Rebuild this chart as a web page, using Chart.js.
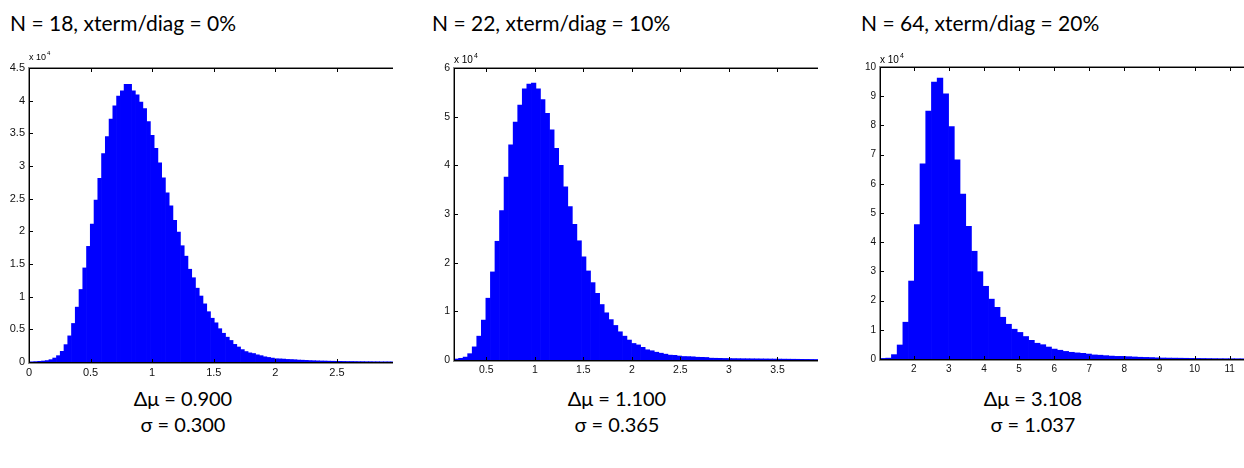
<!DOCTYPE html>
<html>
<head>
<meta charset="utf-8">
<script src="https://cdn.jsdelivr.net/npm/chart.js@4.4.1/dist/chart.umd.min.js"></script>
<style>
  html, body { margin: 0; padding: 0; background: #fff; }
  body { width: 1244px; height: 468px; position: relative; overflow: hidden;
         font-family: Lato, 'Noto Sans', sans-serif; color: #000; }
  canvas { position: absolute; }
  .title { position: absolute; font-size: 21px; line-height: 21px; white-space: nowrap; }
  .stat  { position: absolute; font-size: 20px; line-height: 20px; width: 200px;
           text-align: center; white-space: nowrap; }
</style>
</head>
<body>

<div class="title" id="t1"></div>
<div class="title" id="t2"></div>
<div class="title" id="t3"></div>

<canvas id="h1"></canvas>
<canvas id="h2"></canvas>
<canvas id="h3"></canvas>

<div class="stat" id="m1"></div><div class="stat" id="s1"></div>
<div class="stat" id="m2"></div><div class="stat" id="s2"></div>
<div class="stat" id="m3"></div><div class="stat" id="s3"></div>

<script>
// --- data (counts in units of 1e4) ---------------------------------------

var titles = ['N = 18, xterm/diag = 0%', 'N = 22, xterm/diag = 10%', 'N = 64, xterm/diag = 20%'];
var deltaMu = ['0.900', '1.100', '3.108'];
var sigma   = ['0.300', '0.365', '1.037'];

// N = 18
var binStart1 = 0.0095, binWidth1 = 0.0305;
var counts1 = [
    0.003, 0.006, 0.01, 0.015, 0.022, 0.036, 0.061, 0.097, 0.163, 0.266,
    0.40, 0.59, 0.84, 1.11, 1.44, 1.77, 2.11, 2.48, 2.81, 3.19,
    3.45, 3.72, 3.92, 4.07, 4.15, 4.25, 4.25, 4.15, 4.09, 3.98,
    3.88, 3.68, 3.47, 3.27, 3.05, 2.82, 2.59, 2.39, 2.17, 1.99,
    1.78, 1.62, 1.42, 1.29, 1.13, 1.01, 0.89, 0.77, 0.67, 0.60,
    0.51, 0.44, 0.38, 0.33, 0.27, 0.23, 0.19, 0.16, 0.14, 0.13,
    0.11, 0.097, 0.08, 0.07, 0.06, 0.05, 0.048, 0.045, 0.04, 0.038,
    0.035, 0.03, 0.028, 0.025, 0.022, 0.02, 0.018, 0.016, 0.015, 0.013,
    0.012, 0.011, 0.01, 0.009, 0.008, 0.008, 0.007, 0.006, 0.006, 0.005,
    0.005, 0.004, 0.004, 0.003, 0.003, 0.003, 0.002
];
var xTicks1 = [0, 0.5, 1, 1.5, 2, 2.5];
var yTicks1 = [0, 0.5, 1, 1.5, 2, 2.5, 3, 3.5, 4, 4.5];

// N = 22
var binStart2 = 0.167, binWidth2 = 0.0469;
var counts2 = [
    0.02, 0.035, 0.06, 0.13, 0.27, 0.49, 0.82, 1.27, 1.81, 2.44,
    3.07, 3.76, 4.42, 4.89, 5.24, 5.57, 5.67, 5.69, 5.57, 5.35,
    5.07, 4.73, 4.35, 4.0, 3.56, 3.15, 2.79, 2.45, 2.12, 1.83,
    1.59, 1.37, 1.14, 0.97, 0.83, 0.71, 0.58, 0.49, 0.41, 0.34,
    0.31, 0.26, 0.21, 0.19, 0.16, 0.14, 0.12, 0.10, 0.096, 0.082,
    0.072, 0.07, 0.066, 0.057, 0.055, 0.052, 0.038, 0.036, 0.034, 0.032,
    0.03, 0.029, 0.028, 0.027, 0.026, 0.025, 0.024, 0.023, 0.022, 0.021,
    0.02, 0.019, 0.018, 0.017, 0.016, 0.015, 0.014, 0.013, 0.012, 0.011
];
var xTicks2 = [0.5, 1, 1.5, 2, 2.5, 3, 3.5];
var yTicks2 = [0, 1, 2, 3, 4, 5, 6];

// N = 64
var binStart3 = 1.037, binWidth3 = 0.1629;
var counts3 = [
    0.02, 0.03, 0.15, 0.48, 1.26, 2.67, 4.60, 6.68, 8.49, 9.48,
    9.62, 9.08, 7.96, 6.82, 5.65, 4.54, 3.69, 2.99, 2.49, 2.05,
    1.77, 1.43, 1.19, 1.02, 0.91, 0.77, 0.64, 0.54, 0.49, 0.41,
    0.34, 0.30, 0.26, 0.23, 0.21, 0.195, 0.17, 0.14, 0.13, 0.115,
    0.10, 0.09, 0.09, 0.08, 0.07, 0.06, 0.055, 0.05, 0.04, 0.035,
    0.032, 0.03, 0.028, 0.025, 0.022, 0.02, 0.018, 0.016, 0.014, 0.012,
    0.011, 0.01, 0.009, 0.008
];
var xTicks3 = [2, 3, 4, 5, 6, 7, 8, 9, 10, 11];
var yTicks3 = [0, 1, 2, 3, 4, 5, 6, 7, 8, 9, 10];

// --- axes box with inward ticks and the "x 10^4" multiplier -------------

var matlabAxes = {
    id: 'matlabAxes',
    afterDraw: function (chart, args, opts) {
        var ctx = chart.ctx, a = chart.chartArea;
        var x = chart.scales.x, y = chart.scales.y;
        var L = Math.round(a.left), T = Math.round(a.top), B = Math.round(a.bottom);
        var R = Math.round(a.right);

        ctx.save();
        // soft outer pixel, then the solid edge (left, top, bottom; no right edge)
        ctx.fillStyle = '#8a8a8a';
        ctx.fillRect(L - 1, T - 1, 1, B - T + 2);
        ctx.fillRect(L - 1, T - 1, R - L + 1, 1);
        ctx.fillRect(L - 1, B + 1, R - L + 1, 1);
        ctx.fillStyle = '#000';
        ctx.fillRect(L, T, 1, B - T + 1);
        ctx.fillRect(L, T, R - L, 1);
        ctx.fillRect(L, B, R - L, 1);

        x.ticks.forEach(function (t) {
            var px = Math.round(x.getPixelForValue(t.value));
            if (px <= L + 1 || px >= R) return;
            ctx.fillRect(px, B - 3, 1, 3);
            ctx.fillRect(px, T + 1, 1, 3);
        });
        y.ticks.forEach(function (t) {
            var py = Math.round(y.getPixelForValue(t.value));
            if (py <= T + 1 || py >= B - 1) return;
            ctx.fillRect(L + 1, py, 3, 1);
        });

        ctx.textBaseline = 'alphabetic';
        ctx.textAlign = 'left';
        ctx.font = opts.expSize + 'px "Liberation Sans", Arial, sans-serif';
        ctx.fillText('x 10', a.left, a.top - opts.expDrop);
        var w = ctx.measureText('x 10').width;
        ctx.font = Math.round(opts.expSize * 0.7) + 'px "Liberation Sans", Arial, sans-serif';
        ctx.fillText('4', a.left + w + 1, a.top - opts.expDrop - 5);
        ctx.restore();
    }
};

function fmt(v) {
    return String(Math.round(v * 100) / 100);
}

// box = chart area in page pixels
function buildHistogram(id, box, binStart, binWidth, counts, xMax, xTicks, yTicks, tickSize, expSize, expDrop) {
    var el = document.getElementById(id);
    var padL = 30, padT = 22, padR = 6, padB = 24;
    var w = box.right - box.left, h = box.bottom - box.top;

    el.width = w + padL + padR;
    el.height = h + padT + padB;
    el.style.left = (box.left - padL) + 'px';
    el.style.top = (box.top - padT) + 'px';

    var points = counts.map(function (c, i) {
        return { x: binStart + (i + 0.5) * binWidth, y: c };
    });
    var tickFont = { family: '"Liberation Sans", Arial, sans-serif', size: tickSize };

    return new Chart(el, {
        type: 'bar',
        data: {
            datasets: [{
                data: points,
                backgroundColor: '#0000ff',
                borderWidth: 0,
                barPercentage: 1,
                categoryPercentage: 1
            }]
        },
        options: {
            responsive: false,
            animation: false,
            layout: { padding: { left: 0, top: padT, right: padR, bottom: 0 } },
            plugins: {
                legend: { display: false },
                tooltip: { enabled: false },
                matlabAxes: { expSize: expSize, expDrop: expDrop }
            },
            scales: {
                x: {
                    type: 'linear',
                    offset: false,
                    min: xTicks[0] < binStart ? xTicks[0] : binStart,
                    max: xMax,
                    grid: { display: false, drawTicks: false, offset: false },
                    border: { display: false },
                    afterBuildTicks: function (s) {
                        s.ticks = xTicks.map(function (v) { return { value: v }; });
                    },
                    afterFit: function (s) { s.height = padB; },
                    ticks: { font: tickFont, color: '#111', padding: 4, maxRotation: 0,
                             autoSkip: false, callback: fmt }
                },
                y: {
                    min: 0,
                    max: yTicks[yTicks.length - 1],
                    grid: { display: false, drawTicks: false },
                    border: { display: false },
                    afterBuildTicks: function (s) {
                        s.ticks = yTicks.map(function (v) { return { value: v }; });
                    },
                    afterFit: function (s) { s.width = padL; },
                    ticks: { font: tickFont, color: '#111', padding: 4, autoSkip: false, callback: fmt }
                }
            }
        },
        plugins: [matlabAxes]
    });
}

buildHistogram('h1', { left: 29, top: 68, right: 393, bottom: 362 },
    binStart1, binWidth1, counts1, 2.955, xTicks1, yTicks1, 11, 9, 8);
buildHistogram('h2', { left: 454, top: 68, right: 818, bottom: 360 },
    binStart2, binWidth2, counts2, 3.918, xTicks2, yTicks2, 10.5, 10, 5);
buildHistogram('h3', { left: 880, top: 67, right: 1244, bottom: 359 },
    binStart3, binWidth3, counts3, 11.41, xTicks3, yTicks3, 10, 10, 4);

// --- captions -----------------------------------------------------------

var titleLeft = [10, 432, 861];
var statCenter = [183, 617, 1033];
for (var i = 0; i < 3; i++) {
    var t = document.getElementById('t' + (i + 1));
    t.textContent = titles[i];
    t.style.left = titleLeft[i] + 'px';
    t.style.top = '12px';

    var m = document.getElementById('m' + (i + 1));
    m.textContent = '\u0394\u03bc = ' + deltaMu[i];
    m.style.left = (statCenter[i] - 100) + 'px';
    m.style.top = '388px';

    var s = document.getElementById('s' + (i + 1));
    s.textContent = '\u03c3 = ' + sigma[i];
    s.style.left = (statCenter[i] - 100) + 'px';
    s.style.top = '414px';
}
</script>
</body>
</html>
